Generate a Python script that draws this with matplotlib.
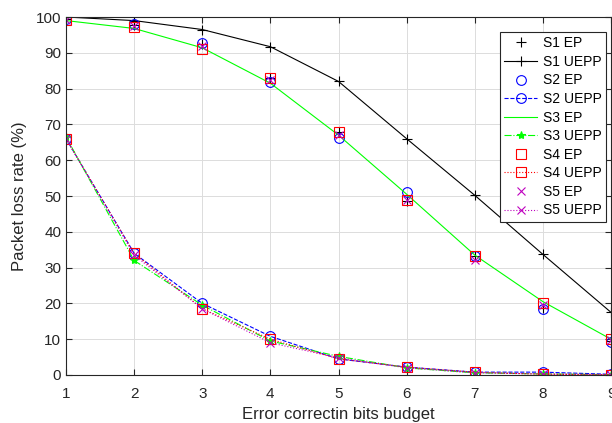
import matplotlib
matplotlib.use("Agg")
import matplotlib.pyplot as plt

plt.rcParams['font.family'] = ['Liberation Sans', 'DejaVu Sans']

# data
budget = [1, 2, 3, 4, 5, 6, 7, 8, 9]
s1_ep = [99.5, 97.8, 92.5, 83.0, 68.0, 48.5, 33.3, 18.8, 9.5]
s1_uepp = [100.0, 99.0, 96.5, 91.7, 82.0, 66.0, 50.2, 33.7, 17.5]
s2_ep = [99.5, 98.0, 92.8, 81.8, 66.3, 51.2, 33.3, 18.3, 9.2]
s2_uepp = [66.0, 34.0, 20.0, 10.8, 4.5, 2.2, 0.8, 0.8, 0.2]
s3_ep = [99.0, 96.8, 91.4, 81.5, 67.0, 50.5, 33.5, 20.5, 10.0]
s3_uepp = [66.5, 32.0, 19.5, 9.5, 5.2, 2.0, 0.6, 0.3, 0.1]
s4_ep = [99.3, 97.1, 91.0, 83.0, 67.8, 49.0, 33.3, 20.0, 10.0]
s4_uepp = [66.0, 34.0, 18.5, 10.0, 4.5, 2.2, 0.8, 0.2, 0.1]
s5_ep = [99.3, 97.5, 92.0, 82.5, 67.0, 49.0, 32.0, 19.5, 9.8]
s5_uepp = [66.0, 33.5, 18.5, 9.0, 4.8, 2.0, 0.6, 0.3, 0.1]

fig = plt.figure(figsize=(6.12, 4.23), dpi=100)
ax = fig.add_axes([66/612, 1 - 375/423, 545/612, 358/423])

lw = 0.8
ms = 7
ax.plot(budget, s1_ep, 'k+', ms=ms, mew=lw, label='S1 EP')
ax.plot(budget, s1_uepp, 'k-+', lw=lw, ms=ms, mew=lw, label='S1 UEPP')
ax.plot(budget, s2_ep, 'bo', ms=ms, mew=lw, mfc='none', label='S2 EP')
ax.plot(budget, s2_uepp, 'b--o', lw=lw, ms=ms, mew=lw, mfc='none', label='S2 UEPP')
ax.plot(budget, s3_ep, '-', color=(0, 1, 0), lw=lw, label='S3 EP')
ax.plot(budget, s3_uepp, '-.*', color=(0, 1, 0), lw=lw, ms=ms - 1, mew=lw, label='S3 UEPP')
ax.plot(budget, s4_ep, 'rs', ms=ms, mew=lw, mfc='none', label='S4 EP')
ax.plot(budget, s4_uepp, 'r:s', lw=lw, ms=ms, mew=lw, mfc='none', label='S4 UEPP')
ax.plot(budget, s5_ep, 'mx', ms=ms - 1, mew=lw, label='S5 EP')
ax.plot(budget, s5_uepp, 'm:x', lw=lw, ms=ms - 1, mew=lw, label='S5 UEPP')

ax.set_xlim(1, 9)
ax.set_ylim(0, 100)
ax.set_xticks(budget)
ax.set_yticks(range(0, 101, 10))
ax.grid(True, color='#dcdcdc', lw=0.7)
ax.set_axisbelow(True)
ax.tick_params(direction='in', top=True, right=True, labelsize=11, colors='#262626', length=4)
ax.tick_params(axis='x', pad=9)
for sp in ax.spines.values():
    sp.set_color('#262626')
    sp.set_linewidth(0.8)

ax.set_xlabel('Error correctin bits budget', fontsize=12, color='#262626', labelpad=4)
ax.set_ylabel('Packet loss rate (%)', fontsize=12, color='#262626', labelpad=6)

leg = ax.legend(loc='upper right', bbox_to_anchor=(0.991, 0.958), borderaxespad=0,
                fontsize=10, labelspacing=0.33, handlelength=2.4, handletextpad=0.4,
                fancybox=False, framealpha=1, edgecolor='#262626', borderpad=0.3)
leg.get_frame().set_linewidth(0.8)

fig.savefig('out.png', dpi=100)
